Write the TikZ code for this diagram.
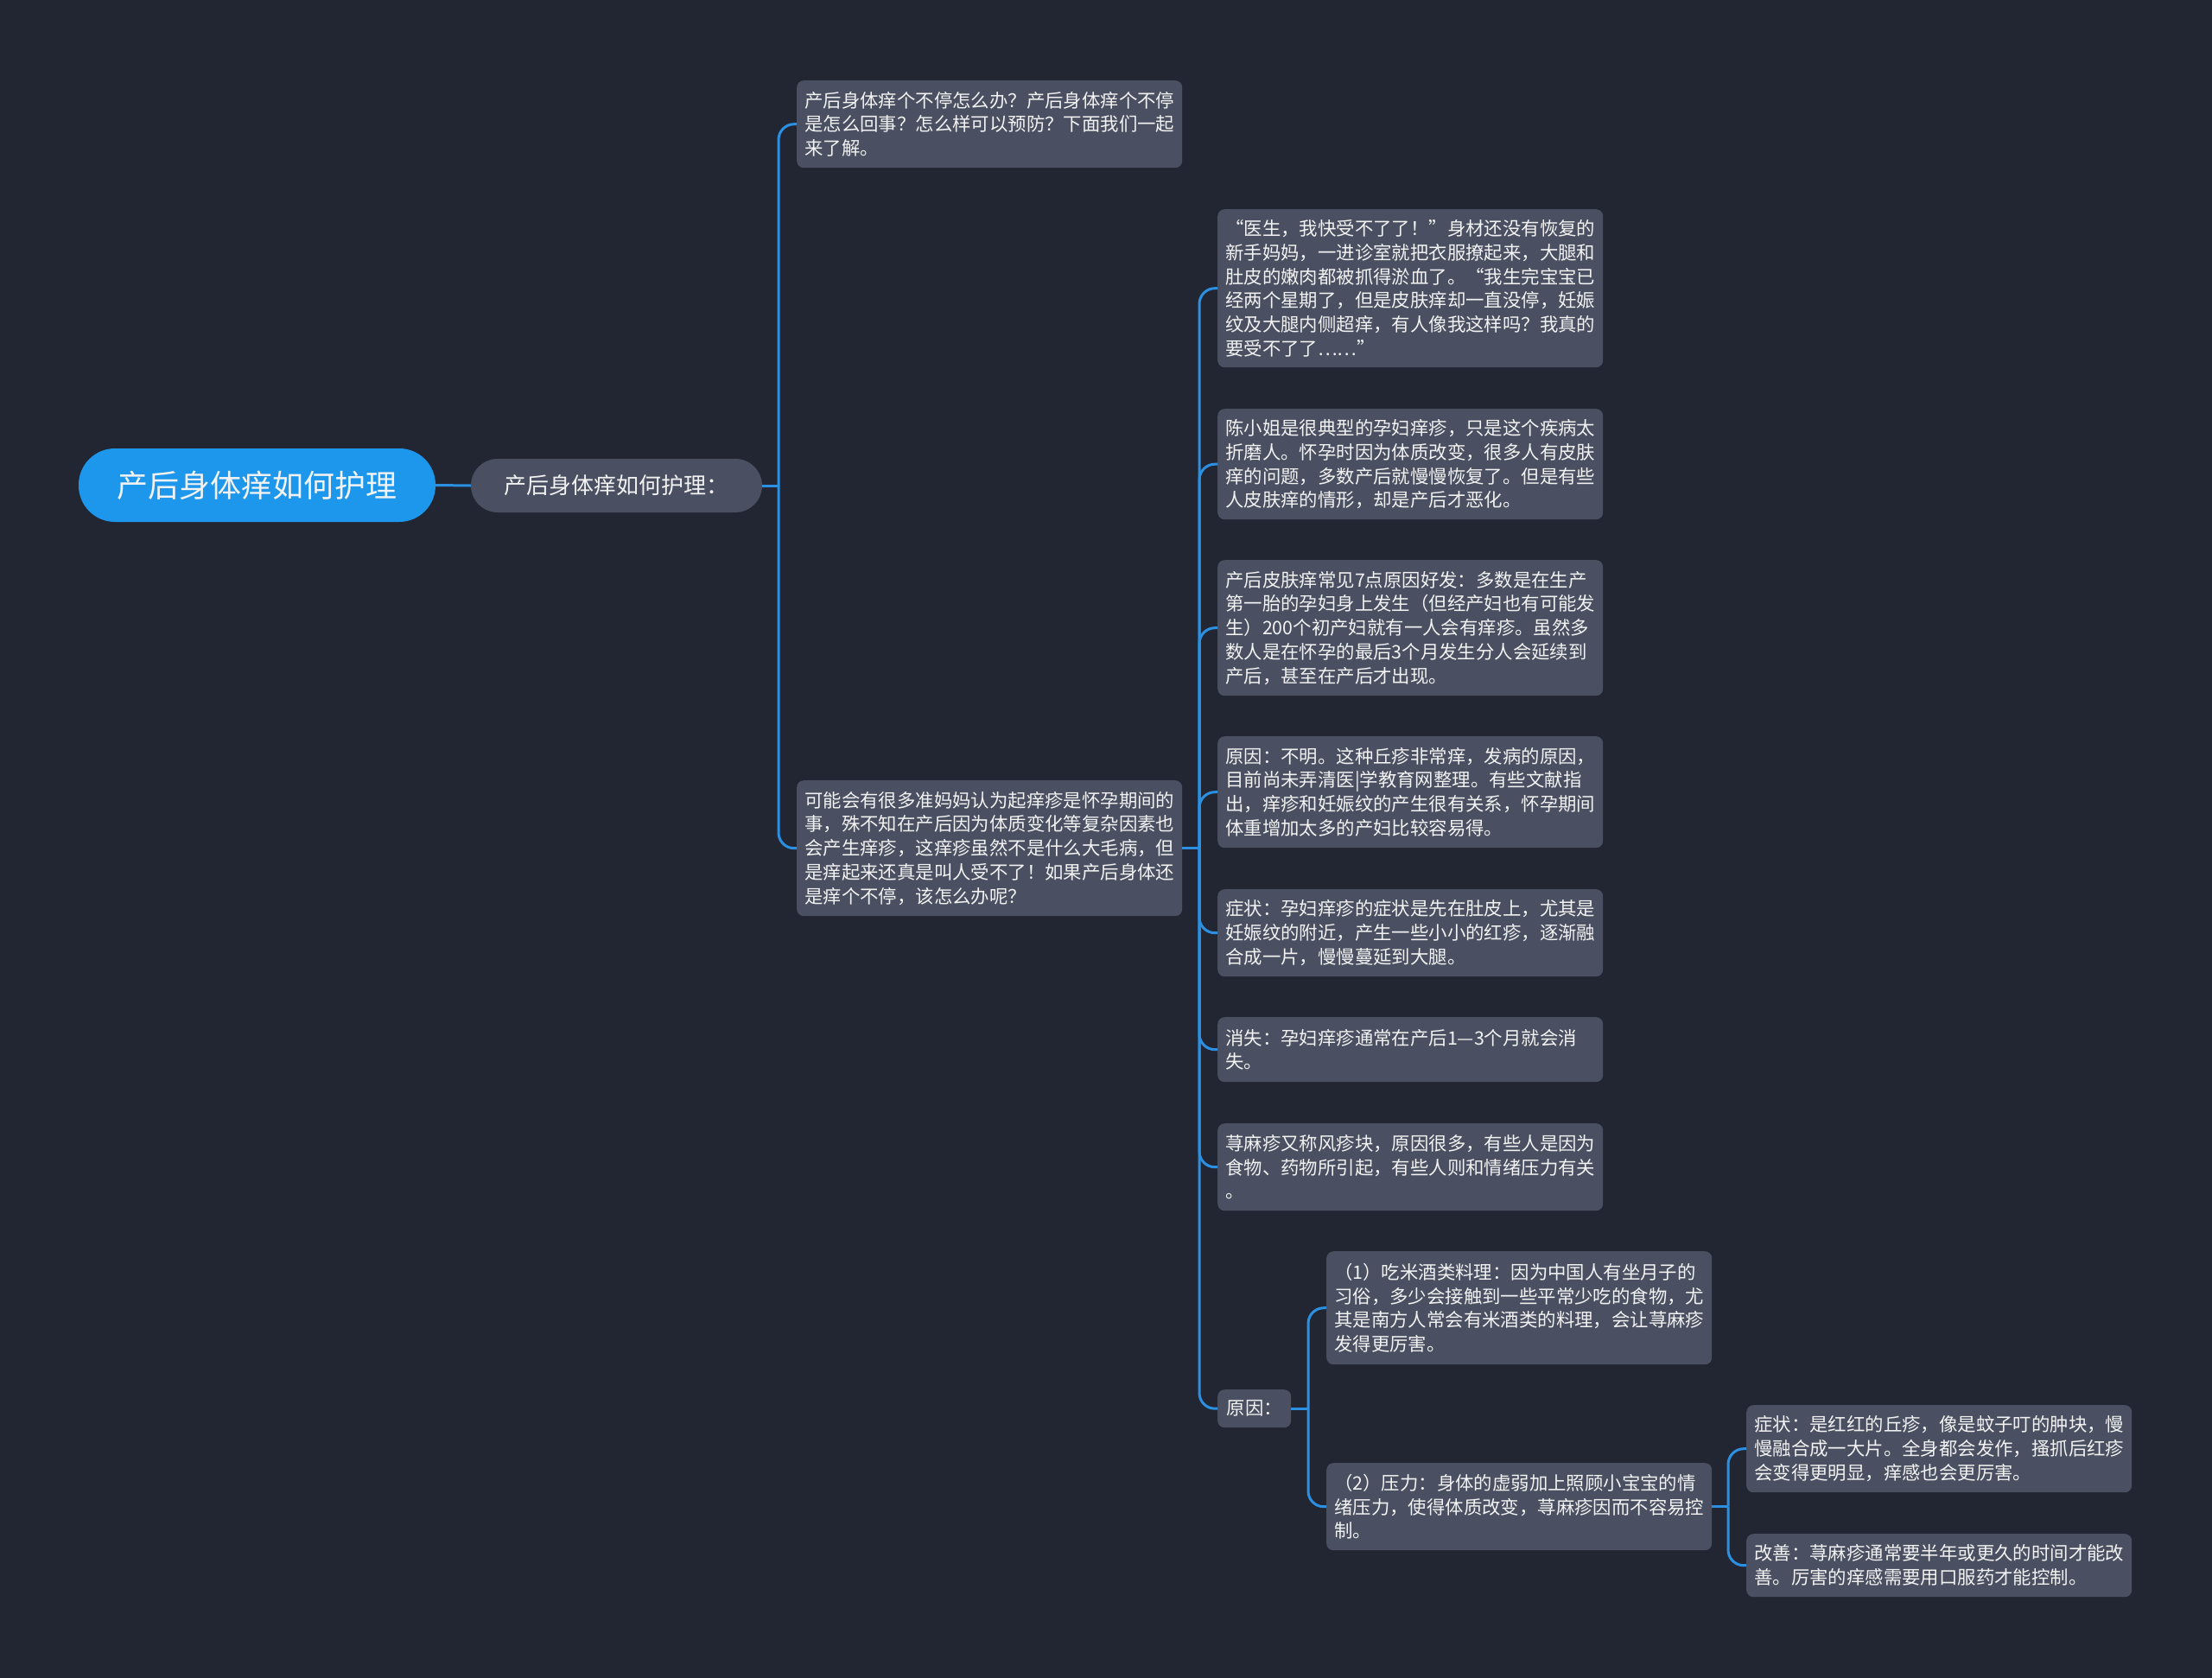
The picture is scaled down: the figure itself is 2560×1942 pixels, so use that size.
\documentclass[tikz,border=0pt]{standalone}
\usepackage{fontspec}
\setmainfont{Noto Sans CJK SC}
\definecolor{bg}{HTML}{222632}
\definecolor{boxgray}{HTML}{4A5061}
\definecolor{rootblue}{HTML}{1C97EC}
\definecolor{linkblue}{HTML}{2B8FE2}
\definecolor{txt}{HTML}{F2F2F2}
\newcommand\bodyfont{\fontsize{21.4}{27.75}\selectfont}
\tikzset{
  box/.style={fill=boxgray, rounded corners=8pt, text=txt, align=left, text width=428pt,
    inner xsep=9pt, inner ysep=0pt, anchor=north west, font=\bodyfont},
  smallbox/.style={fill=boxgray, rounded corners=8pt, text=txt, inner xsep=0pt, inner ysep=0pt,
    anchor=north west, font=\bodyfont, minimum width=85pt, minimum height=44pt},
  conn/.style={draw=linkblue, line width=3pt},
  curve/.style={conn, rounded corners=18pt}
}
\begin{document}
\begin{tikzpicture}[x=1pt,y=-1pt]
\useasboundingbox[fill=bg] (0,0) rectangle (2560,1942);

\node[fill=rootblue, rounded corners=42pt, text=txt, minimum width=413pt, minimum height=85pt,
  font=\fontsize{36}{40}\selectfont, inner sep=0pt] (root) at (297.5,561.5) {产后身体痒如何护理};
\node[fill=boxgray, rounded corners=31pt, text=txt, minimum width=337pt, minimum height=62pt,
  font=\fontsize{26}{30}\selectfont, inner sep=0pt] (l1) at (713.5,562) {产后身体痒如何护理：};

\node[box, minimum height=101pt] (c1) at (922,93) {产后身体痒个不停怎么办？产后身体痒个不停\\是怎么回事？怎么样可以预防？下面我们一起\\来了解。};
\node[box, minimum height=157pt] (c2) at (922,903) {可能会有很多准妈妈认为起痒疹是怀孕期间的\\事，殊不知在产后因为体质变化等复杂因素也\\会产生痒疹，这痒疹虽然不是什么大毛病，但\\是痒起来还真是叫人受不了！如果产后身体还\\是痒个不停，该怎么办呢？};

\node[box, minimum height=183pt] (c2a) at (1409,242) {“医生，我快受不了了！”身材还没有恢复的\\新手妈妈，一进诊室就把衣服撩起来，大腿和\\肚皮的嫩肉都被抓得淤血了。“我生完宝宝已\\经两个星期了，但是皮肤痒却一直没停，妊娠\\纹及大腿内侧超痒，有人像我这样吗？我真的\\要受不了了……”};
\node[box, minimum height=128pt] (c2b) at (1409,473) {陈小姐是很典型的孕妇痒疹，只是这个疾病太\\折磨人。怀孕时因为体质改变，很多人有皮肤\\痒的问题，多数产后就慢慢恢复了。但是有些\\人皮肤痒的情形，却是产后才恶化。};
\node[box, minimum height=157pt] (c2c) at (1409,648) {产后皮肤痒常见7点原因好发：多数是在生产\\第一胎的孕妇身上发生（但经产妇也有可能发\\生）200个初产妇就有一人会有痒疹。虽然多\\数人是在怀孕的最后3个月发生分人会延续到\\产后，甚至在产后才出现。};
\node[box, minimum height=129pt] (c2d) at (1409,852) {原因：不明。这种丘疹非常痒，发病的原因，\\目前尚未弄清医|学教育网整理。有些文献指\\出，痒疹和妊娠纹的产生很有关系，怀孕期间\\体重增加太多的产妇比较容易得。};
\node[box, minimum height=101pt] (c2e) at (1409,1029) {症状：孕妇痒疹的症状是先在肚皮上，尤其是\\妊娠纹的附近，产生一些小小的红疹，逐渐融\\合成一片，慢慢蔓延到大腿。};
\node[box, minimum height=75pt] (c2f) at (1409,1177) {消失：孕妇痒疹通常在产后1—3个月就会消\\失。};
\node[box, minimum height=101pt] (c2g) at (1409,1300) {荨麻疹又称风疹块，原因很多，有些人是因为\\食物、药物所引起，有些人则和情绪压力有关\\。};
\node[smallbox] (yy) at (1409,1608) {原因：};

\node[box, minimum height=131pt] (r1) at (1535,1448) {（1）吃米酒类料理：因为中国人有坐月子的\\习俗，多少会接触到一些平常少吃的食物，尤\\其是南方人常会有米酒类的料理，会让荨麻疹\\发得更厉害。};
\node[box, minimum height=101pt] (r2) at (1535,1693) {（2）压力：身体的虚弱加上照顾小宝宝的情\\绪压力，使得体质改变，荨麻疹因而不容易控\\制。};

\node[box, minimum height=101pt] (s1) at (2021,1626) {症状：是红红的丘疹，像是蚊子叮的肿块，慢\\慢融合成一大片。全身都会发作，搔抓后红疹\\会变得更明显，痒感也会更厉害。};
\node[box, minimum height=73pt] (s2) at (2021,1775) {改善：荨麻疹通常要半年或更久的时间才能改\\善。厉害的痒感需要用口服药才能控制。};

\coordinate (b1) at (901,0);
\coordinate (b2) at (1388,0);
\coordinate (b3) at (1514,0);
\coordinate (b4) at (2000,0);

\draw[conn] (root.east) -- (l1.west);
\draw[conn] (l1.east) -- (l1.east -| b1);
\foreach \c in {c1,c2} \draw[curve] (l1.east -| b1) -- (b1 |- \c.west) -- (\c.west);
\draw[conn] (c2.east) -- (c2.east -| b2);
\foreach \c in {c2a,c2b,c2c,c2d,c2e,c2f,c2g,yy} \draw[curve] (c2.east -| b2) -- (b2 |- \c.west) -- (\c.west);
\draw[conn] (yy.east) -- (yy.east -| b3);
\foreach \c in {r1,r2} \draw[curve] (yy.east -| b3) -- (b3 |- \c.west) -- (\c.west);
\draw[conn] (r2.east) -- (r2.east -| b4);
\foreach \c in {s1,s2} \draw[curve] (r2.east -| b4) -- (b4 |- \c.west) -- (\c.west);
\end{tikzpicture}
\end{document}
